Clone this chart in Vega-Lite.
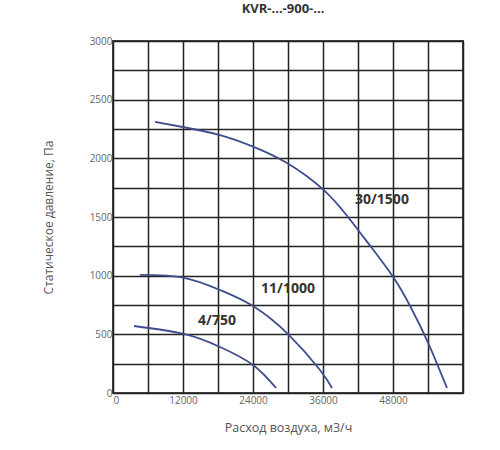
{
  "$schema": "https://vega.github.io/schema/vega-lite/v6.json",
  "autosize": {"type": "none"},
  "padding": {"left": 113, "top": 41, "right": 37, "bottom": 57},
  "width": 350,
  "height": 352,
  "background": "white",
  "config": {
    "view": {"stroke": "#444", "strokeWidth": 2},
    "font": "Open Sans"
  },
  "title": {"text": "KVR-...-900-...", "fontSize": 13, "fontWeight": "bold", "color": "#333", "font": "Open Sans", "offset": 20, "anchor": "middle", "dx": -5},
  "datasets": {
    "curves": [
      {"series": "30/1500", "q": 7200, "p": 2310},
      {"series": "30/1500", "q": 12171, "p": 2265},
      {"series": "30/1500", "q": 18343, "p": 2198},
      {"series": "30/1500", "q": 24000, "p": 2100},
      {"series": "30/1500", "q": 29829, "p": 1960},
      {"series": "30/1500", "q": 36000, "p": 1735},
      {"series": "30/1500", "q": 40286, "p": 1500},
      {"series": "30/1500", "q": 44000, "p": 1260},
      {"series": "30/1500", "q": 48000, "p": 990},
      {"series": "30/1500", "q": 51000, "p": 735},
      {"series": "30/1500", "q": 54000, "p": 430},
      {"series": "30/1500", "q": 57257, "p": 43},
      {"series": "11/1000", "q": 4629, "p": 1006},
      {"series": "11/1000", "q": 12171, "p": 982},
      {"series": "11/1000", "q": 18343, "p": 878},
      {"series": "11/1000", "q": 24000, "p": 741},
      {"series": "11/1000", "q": 30171, "p": 494},
      {"series": "11/1000", "q": 35486, "p": 196},
      {"series": "11/1000", "q": 37543, "p": 43},
      {"series": "4/750", "q": 3600, "p": 571},
      {"series": "4/750", "q": 12171, "p": 503},
      {"series": "4/750", "q": 18343, "p": 392},
      {"series": "4/750", "q": 24000, "p": 239},
      {"series": "4/750", "q": 27943, "p": 43}
    ],
    "labels": [
      {"label": "30/1500", "q": 46110, "p": 1645},
      {"label": "11/1000", "q": 30000, "p": 886},
      {"label": "4/750", "q": 17830, "p": 614}
    ]
  },
  "encoding": {
    "x": {
      "field": "q", "type": "quantitative",
      "scale": {"domain": [0, 60000], "nice": false},
      "axis": {
        "title": "Расход воздуха, м3/ч",
        "titleFontSize": 12.5, "titleFontWeight": "normal", "titleColor": "#555", "titleFont": "Open Sans",
        "titleY": 34, "titleBaseline": "middle",
        "values": [0, 6000, 12000, 18000, 24000, 30000, 36000, 42000, 48000, 54000, 60000],
        "format": "d",
        "labelExpr": "(datum.value % 12000 == 0 && datum.value < 60000) ? datum.label : ''",
        "labelOverlap": false,
        "labelFontSize": 10, "labelColor": "#666", "labelPadding": 2,
        "ticks": false, "domain": false,
        "grid": true, "gridColor": "#222", "gridWidth": 1.5, "gridOpacity": 1
      }
    },
    "y": {
      "field": "p", "type": "quantitative",
      "scale": {"domain": [0, 3000], "nice": false},
      "axis": {
        "title": "Статическое давление, Па",
        "titleFontSize": 12, "titleFontWeight": "normal", "titleColor": "#555", "titleFont": "Open Sans",
        "titleX": -65, "titleY": 176, "titleAlign": "center", "titleBaseline": "middle",
        "values": [0, 250, 500, 750, 1000, 1250, 1500, 1750, 2000, 2250, 2500, 2750, 3000],
        "format": "d",
        "labelExpr": "(datum.value % 500 == 0) ? datum.label : ''",
        "labelOverlap": false,
        "labelFontSize": 10, "labelColor": "#666", "labelPadding": 1,
        "ticks": false, "domain": false,
        "grid": true, "gridColor": "#222", "gridWidth": 1.5, "gridOpacity": 1
      }
    }
  },
  "layer": [
    {
      "data": {"name": "curves"},
      "mark": {"type": "line", "color": "#3f4d8e", "strokeWidth": 1.8, "interpolate": "natural"},
      "encoding": {
        "detail": {"field": "series"}
      }
    },
    {
      "data": {"name": "labels"},
      "mark": {"type": "text", "fontSize": 14, "fontWeight": "bold", "color": "#333", "font": "Open Sans", "align": "center", "baseline": "middle"},
      "encoding": {
        "text": {"field": "label"}
      }
    }
  ]
}
